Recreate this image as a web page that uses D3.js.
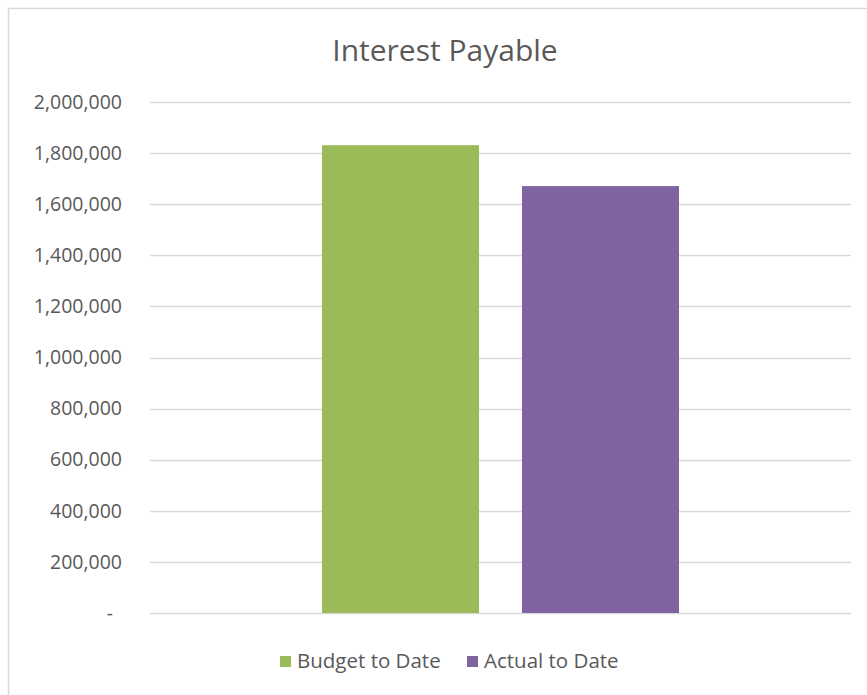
<!DOCTYPE html>
<html>
<head>
<meta charset="utf-8">
<script src="https://cdn.jsdelivr.net/npm/d3@7"></script>
<style>
  body { margin: 0; background: #fff; }
  text { font-family: "Open Sans", sans-serif; fill: #595959; }
</style>
</head>
<body>
<script>
//data
var categories = ["Interest Payable"];
var series = ["Budget to Date", "Actual to Date"];
var values = [1831000, 1671000];
var tickValues = [0, 200000, 400000, 600000, 800000, 1000000, 1200000, 1400000, 1600000, 1800000, 2000000];
var colors = ["#9BBB59", "#8064A2"];

var w = 867, h = 695;
//plot area edges (window.top is taken, so use other names)
var plotLeft = 150, plotRight = 851, plotTop = 102, plotBottom = 613;

var svg = d3.select("body")
    .append("svg")
    .attr("width", w)
    .attr("height", h);

//chart border (right and bottom fall outside the picture)
svg.append("rect")
    .attr("x", 8.5)
    .attr("y", 8.5)
    .attr("width", 900)
    .attr("height", 700)
    .style("fill", "none")
    .style("stroke", "#d9d9d9")
    .style("stroke-width", 1.5);

var y = d3.scaleLinear()
    .domain([0, 2000000])
    .range([plotBottom, plotTop]);

var x0 = d3.scaleBand()
    .domain(categories)
    .range([plotLeft, plotRight])
    .paddingInner(0)
    .paddingOuter(0.4818);

var x1 = d3.scaleBand()
    .domain(series)
    .range([0, x0.bandwidth()])
    .paddingInner(0.215)
    .paddingOuter(0);

//gridlines
svg.append("g")
    .selectAll("line")
    .data(tickValues)
    .enter()
    .append("line")
    .attr("x1", plotLeft)
    .attr("x2", plotRight)
    .attr("y1", function(d){ return Math.round(y(d)) + 0.5; })
    .attr("y2", function(d){ return Math.round(y(d)) + 0.5; })
    .style("stroke", "#d9d9d9")
    .style("stroke-width", 1.5);

//y axis labels
var fmt = d3.format(",");
var yAxis = d3.axisLeft(y)
    .tickValues(tickValues)
    .tickSize(0)
    .tickPadding(0)
    .tickFormat(function(d){ return d === 0 ? "-" : fmt(d); });

var axis = svg.append("g")
    .attr("transform", "translate(122,0)")
    .call(yAxis);
axis.select(".domain").remove();
axis.selectAll("text")
    .style("font-size", "19.5px")
    .style("fill", "#595959")
    .style("font-family", "'Open Sans', sans-serif")
    .attr("dx", function(d){ return d === 0 ? -9 : 0; });

//bars
svg.append("g")
    .selectAll("rect")
    .data(series)
    .enter()
    .append("rect")
    .attr("x", function(d){ return x0(categories[0]) + x1(d); })
    .attr("width", x1.bandwidth())
    .attr("y", function(d, i){ return y(values[i]); })
    .attr("height", function(d, i){ return plotBottom - y(values[i]); })
    .style("fill", function(d, i){ return colors[i]; });

//title
svg.append("text")
    .attr("x", 445)
    .attr("y", 61)
    .attr("text-anchor", "middle")
    .style("font-size", "30px")
    .text("Interest Payable");

//legend
var legendX = [280, 467];
var legend = svg.selectAll(".legend")
    .data(series)
    .enter()
    .append("g")
    .attr("class", "legend")
    .attr("transform", function(d, i){ return "translate(" + legendX[i] + ",656)"; });

legend.append("rect")
    .attr("width", 11)
    .attr("height", 11)
    .style("fill", function(d, i){ return colors[i]; });

legend.append("text")
    .attr("x", 17)
    .attr("y", 12)
    .style("font-size", "20.5px")
    .text(function(d){ return d; });
</script>
</body>
</html>
